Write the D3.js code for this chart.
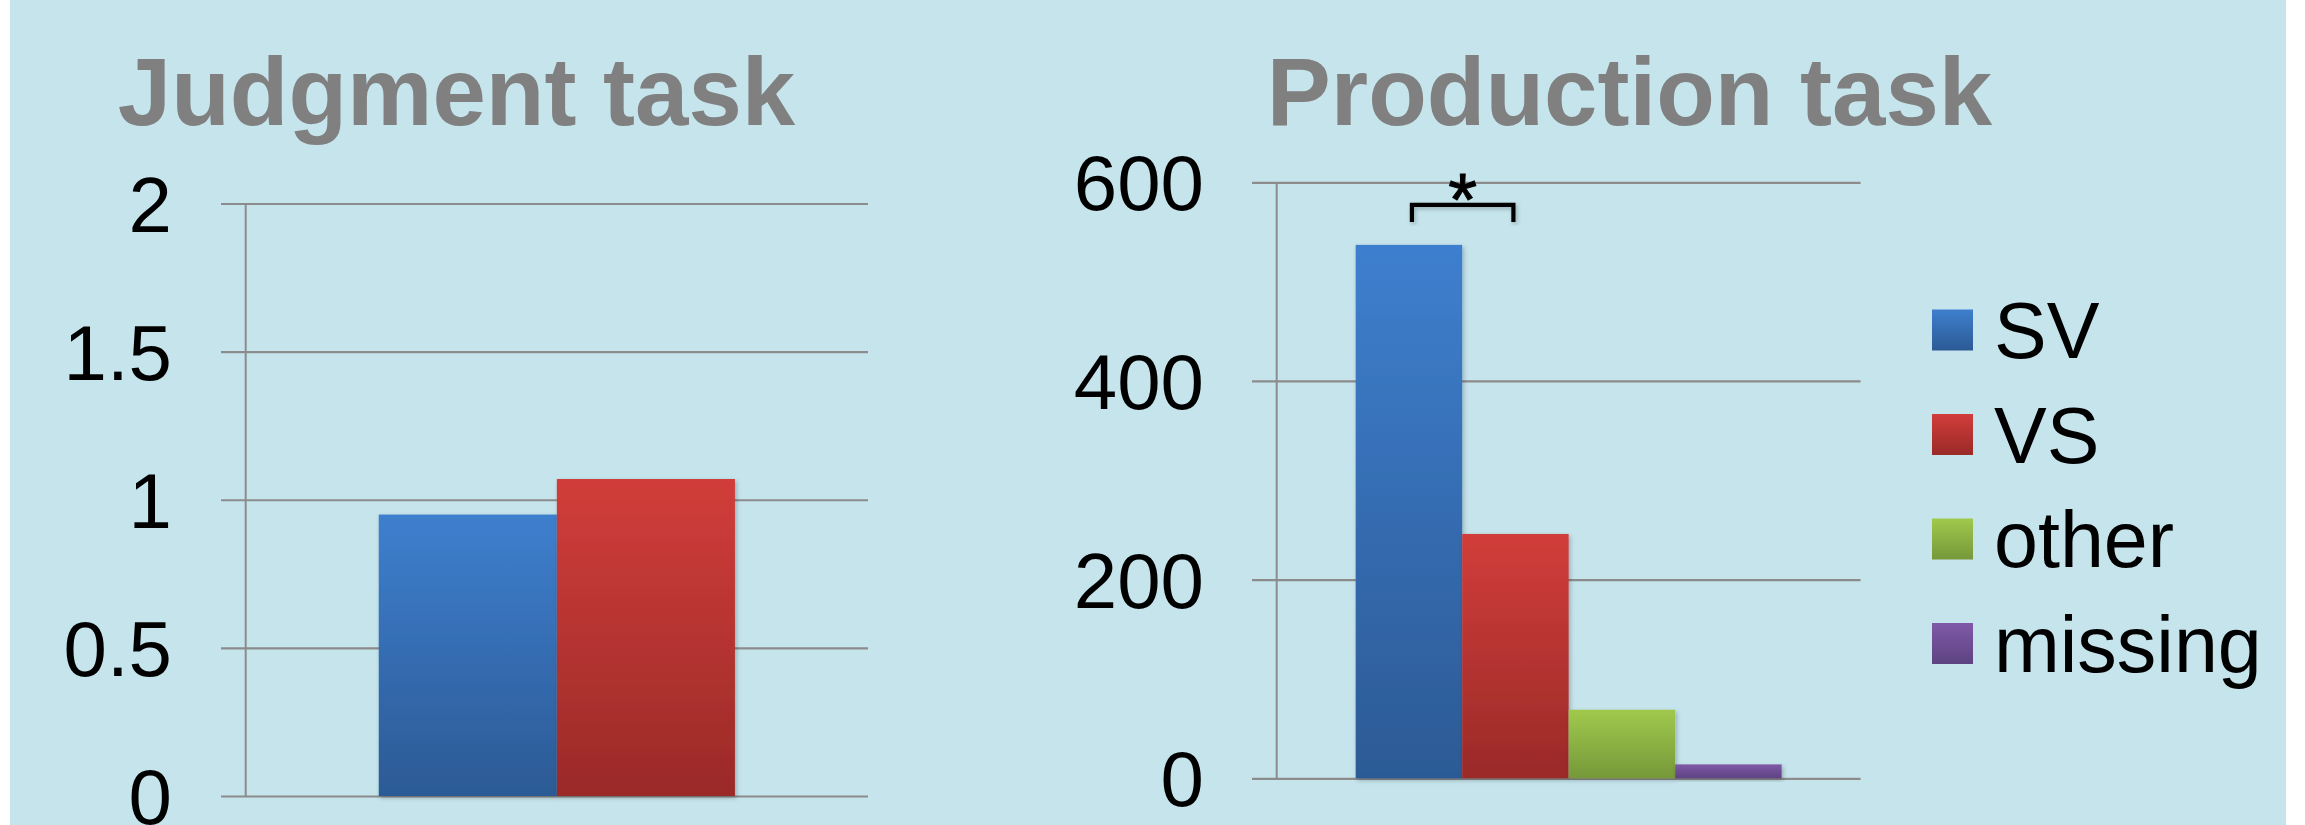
<!DOCTYPE html>
<html>
<head>
<meta charset="utf-8">
<script src="https://cdn.jsdelivr.net/npm/d3@7"></script>
<style>
  html, body { margin: 0; padding: 0; background: #ffffff; }
  svg { display: block; }
</style>
</head>
<body>
<svg id="chart" width="2305" height="825"></svg>
<script>
// ---- data ----
const judgmentSeries = ["SV", "VS"];
const judgmentValues = [0.95, 1.07];
const judgmentTicks = [0, 0.5, 1, 1.5, 2];
const judgmentTickLabels = ["0", "0.5", "1", "1.5", "2"];

const productionSeries = ["SV", "VS", "other", "missing"];
const productionValues = [537, 246, 69, 14];
const productionTicks = [0, 200, 400, 600];
const productionTickLabels = ["0", "200", "400", "600"];

const titles = ["Judgment task", "Production task"];
const significance = { from: "SV", to: "VS", label: "*" };

const seriesColors = {
  SV:      ["#3e7fce", "#2c5a95"],
  VS:      ["#d13d3a", "#9a2a28"],
  other:   ["#a0c94c", "#76983a"],
  missing: ["#8059a8", "#5d4381"]
};

// ---- setup ----
const svg = d3.select("#chart");
const W = 2305, H = 825;
const FONT = "'Liberation Sans', Arial, Helvetica, sans-serif";

svg.append("rect").attr("x", 10).attr("y", 0).attr("width", 2276).attr("height", H)
  .attr("fill", "#c5e4ec");

const defs = svg.append("defs");
Object.entries(seriesColors).forEach(([k, [c1, c2]]) => {
  const g = defs.append("linearGradient").attr("id", "grad-" + k)
    .attr("x1", 0).attr("y1", 0).attr("x2", 0).attr("y2", 1);
  g.append("stop").attr("offset", "0%").attr("stop-color", c1);
  g.append("stop").attr("offset", "100%").attr("stop-color", c2);
});
const shadow = defs.append("filter").attr("id", "shadow")
  .attr("x", "-20%").attr("y", "-20%").attr("width", "140%").attr("height", "140%");
shadow.append("feDropShadow").attr("dx", 1.5).attr("dy", 2).attr("stdDeviation", 2)
  .attr("flood-color", "#000").attr("flood-opacity", 0.25);

function drawPanel(cfg) {
  const g = svg.append("g");
  const y = d3.scaleLinear().domain(cfg.domain).range([cfg.bottom, cfg.top]);
  const x0 = d3.scaleBand().domain(["cat"]).range([cfg.axisX, cfg.right])
    .paddingOuter(cfg.outerPad).paddingInner(0);
  const x1 = d3.scaleBand().domain(cfg.series).range([x0("cat"), x0("cat") + x0.bandwidth()])
    .padding(0);

  // gridlines via axis
  const grid = d3.axisLeft(y).tickValues(cfg.ticks)
    .tickSize(-(cfg.right - cfg.gridLeft)).tickFormat("");
  const gg = g.append("g").attr("transform", `translate(${cfg.gridLeft},0)`).call(grid);
  gg.select(".domain").remove();
  gg.selectAll(".tick line").attr("stroke", "#8c8c8c").attr("stroke-width", 2.2);

  // vertical axis line
  g.append("line").attr("x1", cfg.axisX).attr("x2", cfg.axisX)
    .attr("y1", y(cfg.domain[1])).attr("y2", y(cfg.domain[0]))
    .attr("stroke", "#8c8c8c").attr("stroke-width", 2);

  // tick labels
  g.selectAll("text.tick-label").data(cfg.ticks).join("text")
    .attr("class", "tick-label")
    .attr("x", cfg.labelRight).attr("y", d => y(d)).attr("dy", "0.36em")
    .attr("text-anchor", "end")
    .attr("font-family", FONT).attr("font-size", 78).attr("fill", "#000")
    .text((d, i) => cfg.tickLabels[i]);

  // bars
  g.selectAll("rect.bar").data(cfg.series.map((s, i) => ({ s, v: cfg.values[i] }))).join("rect")
    .attr("class", "bar")
    .attr("x", d => x1(d.s)).attr("width", x1.bandwidth())
    .attr("y", d => y(d.v)).attr("height", d => y(0) - y(d.v))
    .attr("fill", d => `url(#grad-${d.s})`)
    .attr("filter", "url(#shadow)");

  // title
  g.append("text").attr("x", cfg.titleX).attr("y", 125)
    .attr("text-anchor", "middle")
    .attr("font-family", FONT).attr("font-weight", "bold").attr("font-size", 96)
    .attr("fill", "#808080").text(cfg.title);

  return { x1, y };
}

// Left panel: Judgment task
drawPanel({
  series: judgmentSeries, values: judgmentValues, domain: [0, 2],
  ticks: judgmentTicks, tickLabels: judgmentTickLabels,
  top: 203.5, bottom: 796, axisX: 245.7, gridLeft: 221, right: 868,
  outerPad: 0.3736, labelRight: 172, title: titles[0], titleX: 456.5
});

// Right panel: Production task
const prod = drawPanel({
  series: productionSeries, values: productionValues, domain: [0, 600],
  ticks: productionTicks, tickLabels: productionTickLabels,
  top: 182.3, bottom: 778.3, axisX: 1276.7, gridLeft: 1252, right: 1860.6,
  outerPad: 0.1854, labelRight: 1204, title: titles[1], titleX: 1629.5
});

// significance bracket
{
  const { x1, y } = prod;
  const xa = x1(significance.from) + x1.bandwidth() / 2 + 3;
  const xb = x1(significance.to) + x1.bandwidth() / 2 - 2;
  const topVal = d3.max(productionValues);
  const yBottom = y(topVal) - 23;
  const yTop = y(topVal) - 40;
  svg.append("path")
    .attr("d", `M${xa},${yBottom} V${yTop} H${xb} V${yBottom}`)
    .attr("fill", "none").attr("stroke", "#000").attr("stroke-width", 4.2)
    .attr("filter", "url(#shadow)");
  svg.append("text").attr("x", (xa + xb) / 2).attr("y", yTop + 20)
    .attr("text-anchor", "middle").attr("font-family", FONT).attr("font-size", 74)
    .attr("stroke", "#000").attr("stroke-width", 1)
    .attr("fill", "#000").text(significance.label);
}

// legend
{
  const lg = svg.append("g");
  const rowY = d3.scalePoint().domain(productionSeries).range([330, 643.5]);
  const items = lg.selectAll("g").data(productionSeries).join("g")
    .attr("transform", d => `translate(1932,${rowY(d)})`);
  items.append("rect").attr("x", 0).attr("y", -20.5).attr("width", 41).attr("height", 41)
    .attr("fill", d => `url(#grad-${d})`);
  items.append("text").attr("x", 62).attr("y", 0).attr("dy", "0.36em")
    .attr("font-family", FONT).attr("font-size", 79).attr("fill", "#000")
    .text(d => d);
}
</script>
</body>
</html>
